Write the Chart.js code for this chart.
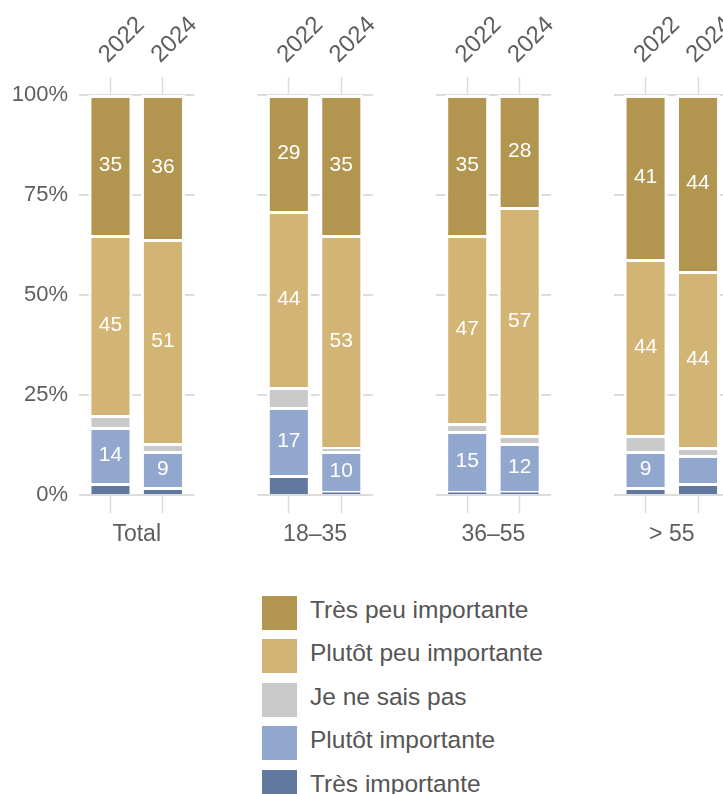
<!DOCTYPE html>
<html>
<head>
<meta charset="utf-8">
<script src="https://cdn.jsdelivr.net/npm/chart.js@4.4.1/dist/chart.umd.min.js"></script>
<style>
  html, body { margin: 0; padding: 0; background: #fff; overflow: hidden; }
  #wrap { position: absolute; left: 0; top: 0; width: 800px; height: 570px; }
  #legend { position: absolute; left: 262px; top: 596px; font-family: "Liberation Sans", Arial, sans-serif; font-size: 24.5px; color: #555; }
  .item { display: flex; align-items: center; height: 34px; margin-bottom: 9.4px; }
  .item span:last-child { position: relative; top: -3px; }
  .box { width: 35px; height: 34px; margin-right: 13px; }
</style>
</head>
<body>
<div id="wrap"><canvas id="myChart"></canvas></div>
<div id="legend"></div>
<script>
const groups = ["Total", "18–35", "36–55", "> 55"];
const years = ["2022", "2024"];
const yTicks = [0, 25, 50, 75, 100];

// one value per bar: Total 2022, Total 2024, 18–35 2022, ...
const tresImportante = [3, 2, 5, 1, 1, 1, 2, 3];
const plutotImportante = [14, 9, 17, 10, 15, 12, 9, 7];
const neSaisPas = [3, 2, 5, 1, 2, 2, 4, 2];
const plutotPeuImportante = [45, 51, 44, 53, 47, 57, 44, 44];
const tresPeuImportante = [35, 36, 29, 35, 35, 28, 41, 44];

const GROUP_STEP = 3.4; // distance between groups, in bar widths
const PAD = 0.6;
const FONT = '"Liberation Sans", Arial, sans-serif';
const TEXT = "#5e5e5e";
const GRID = "#dcdcdc";

// bottom of the stack first
const series = [
  { label: "Très importante", data: tresImportante, color: "#62799f", values: false },
  { label: "Plutôt importante", data: plutotImportante, color: "#91a7cd", values: true },
  { label: "Je ne sais pas", data: neSaisPas, color: "#c9c9c9", values: false },
  { label: "Plutôt peu importante", data: plutotPeuImportante, color: "#d2b574", values: true },
  { label: "Très peu importante", data: tresPeuImportante, color: "#b2964f", values: true },
];

const barX = [];
groups.forEach((g, gi) => {
  years.forEach((y, yi) => barX.push(gi * GROUP_STEP + yi));
});
const groupX = groups.map((g, gi) => gi * GROUP_STEP + 0.5);

const datasets = series.map((s) => ({
  label: s.label,
  data: s.data.map((v, i) => ({ x: barX[i], y: v })),
  backgroundColor: s.color,
  borderColor: "#fff",
  borderWidth: 3,
  borderSkipped: "start",
  showValues: s.values,
}));

const setTicks = (positions) => (scale) => {
  scale.ticks = positions.map((v) => ({ value: v }));
};

const valueLabels = {
  id: "valueLabels",
  afterDatasetsDraw(chart) {
    const ctx = chart.ctx;
    ctx.save();
    ctx.font = "21px " + FONT;
    ctx.fillStyle = "#fff";
    ctx.textAlign = "center";
    ctx.textBaseline = "middle";
    chart.data.datasets.forEach((ds, i) => {
      if (!ds.showValues) return;
      chart.getDatasetMeta(i).data.forEach((bar, j) => {
        const v = ds.data[j].y;
        if (v < 8) return;
        const { x, y, base } = bar.getProps(["x", "y", "base"], true);
        ctx.fillText(v, x, (y + base) / 2);
      });
    });
    ctx.restore();
  },
};

const xRange = { min: -PAD, max: 12, offset: false };

const config = {
  type: "bar",
  data: { datasets: datasets },
  options: {
    responsive: true,
    maintainAspectRatio: false,
    animation: false,
    layout: { padding: { left: 0, right: 60, top: 0, bottom: 0 } },
    datasets: { bar: { barPercentage: 0.84, categoryPercentage: 1 } },
    plugins: { legend: { display: false }, tooltip: { enabled: false } },
    scales: {
      x: {
        type: "linear",
        position: "bottom",
        stacked: true,
        ...xRange,
        weight: 0,
        afterBuildTicks: setTicks(barX),
        afterFit: (s) => { s.height = 20; },
        ticks: { display: false },
        border: { display: false },
        grid: { offset: false, drawOnChartArea: false, tickLength: 18, color: GRID, tickWidth: 1.5 },
      },
      xg: {
        type: "linear",
        position: "bottom",
        ...xRange,
        weight: 1,
        afterBuildTicks: setTicks(groupX),
        afterFit: (s) => { s.height = 55; },
        ticks: {
          padding: 6,
          color: TEXT,
          font: { family: FONT, size: 23 },
          callback: (v, i) => groups[i],
        },
        border: { display: false },
        grid: { display: false, drawTicks: false },
      },
      xt: {
        type: "linear",
        position: "top",
        ...xRange,
        afterBuildTicks: setTicks(barX),
        afterFit: (s) => { s.height = 95; },
        ticks: {
          minRotation: 45,
          maxRotation: 45,
          padding: 8,
          labelOffset: 13,
          color: TEXT,
          font: { family: FONT, size: 24 },
          callback: (v, i) => years[i % years.length],
        },
        border: { display: false },
        grid: { offset: false, drawOnChartArea: false, tickLength: 18, color: GRID, tickWidth: 1.5 },
      },
      y: {
        stacked: true,
        min: 0,
        max: 100,
        afterBuildTicks: setTicks(yTicks),
        afterFit: (s) => { s.width = 79; },
        ticks: {
          padding: 11,
          color: TEXT,
          font: { family: FONT, size: 22 },
          callback: (v) => v + "%",
        },
        border: {
          display: false,
          // short grid dashes under each group only
          dash: (c) => {
            const sx = c.chart.scales.x;
            const u = sx.getPixelForValue(1) - sx.getPixelForValue(0);
            return [(1 + 2 * PAD) * u, (GROUP_STEP - 1 - 2 * PAD) * u];
          },
        },
        grid: { color: GRID, lineWidth: 2, drawTicks: false },
      },
    },
  },
  plugins: [valueLabels],
};

// eslint-disable-next-line no-undef
const myChart = new Chart(document.getElementById("myChart"), config);

// legend, top of the stack first
const legend = document.getElementById("legend");
series.slice().reverse().forEach((s) => {
  const item = document.createElement("div");
  item.className = "item";
  const box = document.createElement("span");
  box.className = "box";
  box.style.background = s.color;
  const text = document.createElement("span");
  text.textContent = s.label;
  item.appendChild(box);
  item.appendChild(text);
  legend.appendChild(item);
});
</script>
</body>
</html>
